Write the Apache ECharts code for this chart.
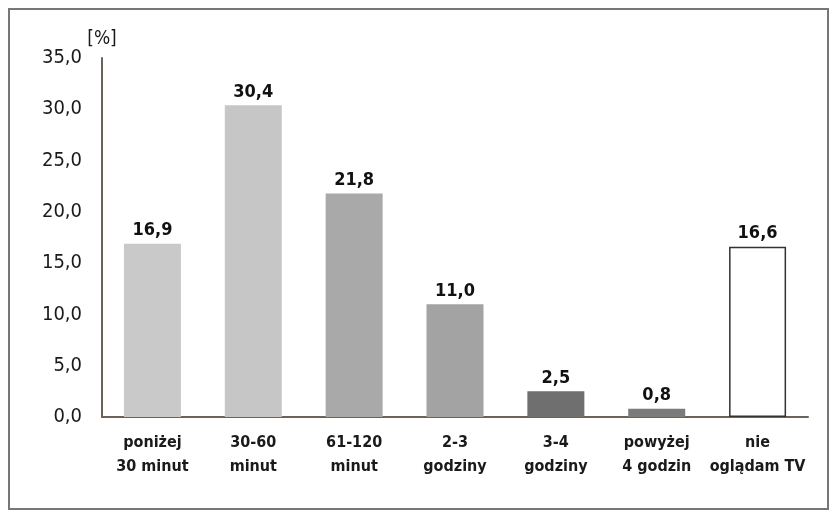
<!DOCTYPE html>
<html><head><meta charset="utf-8">
<script src="https://cdn.jsdelivr.net/npm/echarts@6/dist/echarts.min.js"></script>
<style>html,body{margin:0;padding:0;background:#fff}#c{width:832px;height:512px}</style>
</head><body><div id="c"></div>
<script>
const categories = ["poniżej\n30 minut","30-60\nminut","61-120\nminut","2-3\ngodziny","3-4\ngodziny","powyżej\n4 godzin","nie\noglądam TV"];
const values = [16.9, 30.4, 21.8, 11.0, 2.5, 0.8, 16.6];
const barColors = ["#c9c9c9","#c6c6c6","#a9a9a9","#a3a3a3","#6f6f6f","#7b7b7b","#ffffff"];
const yMin = 0, yMax = 35, yStep = 5;
const FONT = "'Liberation Sans Narrow','DejaVu Sans Condensed','Liberation Sans',sans-serif";
const fmt = v => v.toFixed(1).replace('.', ',');
const chart = echarts.init(document.getElementById('c'));
chart.setOption({
  animation:false,
  graphic:[{type:'rect',shape:{x:9,y:9,width:819,height:500},style:{fill:'none',stroke:'#777',lineWidth:2},silent:true}],
  grid:{left:102,right:24,top:58,bottom:95},
  xAxis:{type:'category',data:categories,
    axisLine:{lineStyle:{color:'#6b625a',width:2}},axisTick:{show:false},
    axisLabel:{interval:0,fontFamily:FONT,fontWeight:'bold',fontSize:16,color:'#1a1a1a',lineHeight:24,margin:14}},
  yAxis:{type:'value',min:yMin,max:yMax,interval:yStep,name:'[%]',nameLocation:'end',nameGap:9,
    nameTextStyle:{fontFamily:FONT,fontSize:19,color:'#1a1a1a',align:'center'},
    axisLine:{show:true,lineStyle:{color:'#6b625a',width:2}},axisTick:{show:false},splitLine:{show:false},
    axisLabel:{formatter:v=>fmt(v),fontFamily:FONT,fontSize:20,color:'#1a1a1a',margin:20}},
  series:[{type:'bar',barWidth:57,
    data:values.map((v,i)=>({value:v,itemStyle:{color:barColors[i],borderColor:i===6?'#333':barColors[i],borderWidth:i===6?1.5:0}})),
    label:{show:true,position:'top',distance:4,formatter:p=>fmt(p.value),fontFamily:FONT,fontWeight:'bold',fontSize:18,color:'#111'}}]
});
</script></body></html>
